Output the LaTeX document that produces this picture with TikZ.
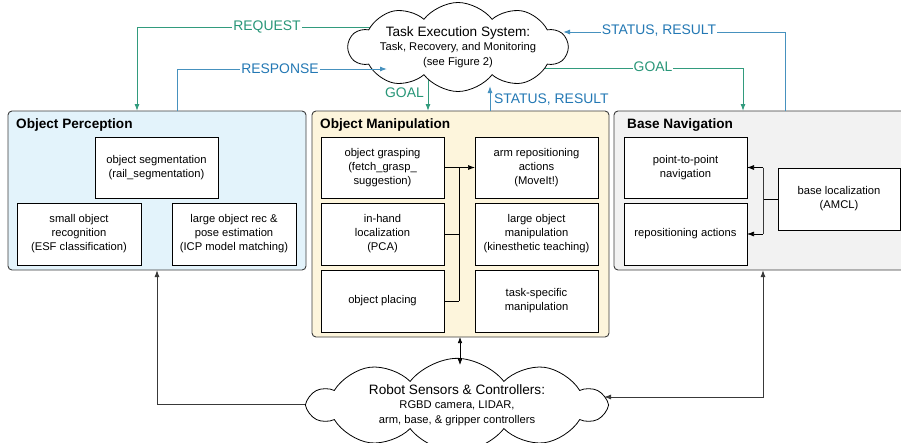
\documentclass[tikz,border=0pt]{standalone}
\usepackage{fontspec}
\setmainfont{Liberation Sans}
\usetikzlibrary{shapes.symbols,arrows.meta}
\definecolor{cgreen}{RGB}{40,150,120}
\definecolor{cblue}{RGB}{35,120,180}
\definecolor{lgreen}{RGB}{50,155,125}
\definecolor{lblue}{RGB}{70,145,190}
\definecolor{percfill}{RGB}{227,243,251}
\definecolor{manipfill}{RGB}{253,245,220}
\definecolor{navfill}{RGB}{242,242,242}
\definecolor{grpborder}{RGB}{60,60,60}
\begin{document}
\begin{tikzpicture}[x=1pt,y=-1pt,
  group/.style={draw=grpborder,line width=0.9pt,rounded corners=4pt,inner sep=0pt,outer sep=0pt,anchor=north west},
  grptitle/.style={anchor=west,inner sep=0pt,font=\bfseries\fontsize{13.6}{16}\selectfont},
  inbox/.style={draw=black,fill=white,line width=0.8pt,inner sep=0pt,outer sep=0pt,anchor=north west,align=center,font=\fontsize{11.2}{14}\selectfont},
  cloudbox/.style={cloud,draw=black,fill=white,line width=0.8pt,cloud puffs=10,cloud puff arc=105,cloud ignores aspect,inner sep=0pt,align=center,font=\fontsize{11.2}{14.5}\selectfont},
  tip/.style={-{Latex[length=7pt,width=5pt]}},
  gln/.style={draw=lgreen,line width=1pt},
  bln/.style={draw=lblue,line width=1pt},
  glbl/.style={text=cgreen,fill=white,inner sep=1pt,font=\fontsize{13.9}{16}\selectfont},
  blbl/.style={text=cblue,fill=white,inner sep=1pt,font=\fontsize{13.9}{16}\selectfont},
  thinln/.style={draw=black,line width=0.7pt},
  grayln/.style={draw=gray!45!black,line width=1pt}
]
\useasboundingbox (0,0) rectangle (901,442);

% groups
\node[group,fill=percfill,minimum width=298,minimum height=159] (perc) at (8,111) {};
\node[group,fill=manipfill,minimum width=297,minimum height=226] (manip) at (312,111) {};
\node[group,fill=navfill,minimum width=300,minimum height=159] (nav) at (614,111) {};
\node[grptitle] (percT) at (16,125) {Object Perception};
\node[grptitle] (manipT) at (320,125) {Object Manipulation};
\node[grptitle] (navT) at (627,125) {Base Navigation};

% perception boxes
\node[inbox,minimum width=123,minimum height=61] (seg) at (95,137) {object segmentation\\(rail\_segmentation)};
\node[inbox,minimum width=124,minimum height=62] (small) at (17,203) {small object\\recognition\\(ESF classification)};
\node[inbox,minimum width=124,minimum height=62] (large) at (172,203) {large object rec \&\\pose estimation\\(ICP model matching)};

% manipulation boxes
\node[inbox,minimum width=123,minimum height=61] (grasp) at (321,137) {object grasping\\(fetch\_grasp\_\\suggestion)};
\node[inbox,minimum width=123,minimum height=62] (inhand) at (321,203) {in-hand\\localization\\(PCA)};
\node[inbox,minimum width=123,minimum height=62] (place) at (321,270) {object placing};
\node[inbox,minimum width=123,minimum height=61] (arm) at (475,137) {arm repositioning\\actions\\(MoveIt!)};
\node[inbox,minimum width=123,minimum height=62] (largem) at (475,203) {large object\\manipulation\\(kinesthetic teaching)};
\node[inbox,minimum width=123,minimum height=62] (task) at (475,270) {task-specific\\manipulation};

% navigation boxes
\node[inbox,minimum width=123,minimum height=61] (p2p) at (624,137) {point-to-point\\navigation};
\node[inbox,minimum width=123,minimum height=62] (repo) at (624,203) {repositioning actions};
\node[inbox,minimum width=122,minimum height=62] (baseloc) at (778,168) {base localization\\(AMCL)};

% manipulation connectors
\coordinate (mJ) at (459,0);
\draw[thinln] (inhand.east) -- (inhand.east -| mJ);
\draw[thinln] (place.east) -- (place.east -| mJ);
\draw[thinln] (mJ |- place.east) -- (mJ |- grasp.east);
\draw[thinln,tip] (grasp.east) -- (arm.west);

% navigation connectors
\coordinate (nJ) at (763,0);
\draw[thinln] (baseloc.west) -- (baseloc.west -| nJ);
\draw[grayln] (nJ |- p2p.east) -- (nJ |- repo.east);
\draw[thinln,tip] (nJ |- p2p.east) -- (p2p.east);
\draw[thinln,tip] (nJ |- repo.east) -- (repo.east);

% lines leaving the top cloud (drawn under it)
\coordinate (reqS) at (430,27);
\coordinate (reqE) at (137,111);
\draw[gln,tip] (reqS) -| (reqE);
\coordinate (goalS) at (428,60);
\draw[gln,tip] (goalS) -- (goalS |- manip.north);
\coordinate (goal2S) at (520,68);
\coordinate (goal2E) at (743,111);
\draw[gln,tip] (goal2S) -| (goal2E);

% lines leaving the bottom cloud (drawn under it)
\coordinate (bcL) at (420,404);
\coordinate (percB) at (157,270);
\draw[grayln,tip] (bcL) -| (percB);

% clouds
\node[cloudbox,minimum width=206,minimum height=77] (tes) at (458,47)
  {{\fontsize{13.6}{16}\selectfont Task Execution System:}\\
   Task, Recovery, and Monitoring\\
   (see Figure 2)};
\node[cloudbox,minimum width=296,minimum height=82] (rsc) at (457,405)
  {{\fontsize{13.6}{16}\selectfont Robot Sensors \& Controllers:}\\
   RGBD camera, LIDAR,\\
   arm, base, \& gripper controllers};

% lines entering the top cloud
\coordinate (rsS) at (177,111);
\coordinate (rsE) at (387,69);
\draw[bln,tip] (rsS) |- (rsE);
\coordinate (sr1E) at (490,86);
\draw[bln,tip] (sr1E |- manip.north) -- (sr1E);
\coordinate (sr2S) at (785,111);
\coordinate (sr2E) at (563,32);
\draw[bln,tip] (sr2S) |- (sr2E);

% bottom double arrows
\coordinate (rscTop) at (460,365);
\draw[thinln,{Latex[length=6pt,width=4.5pt]}-{Latex[length=6pt,width=4.5pt]}] (manip.south -| rscTop) -- (rscTop);
\coordinate (navB) at (763,270);
\coordinate (rscR) at (604,397);
\draw[grayln,{Latex[length=7pt,width=5pt]}-{Latex[length=7pt,width=5pt]}] (navB) |- (rscR);

% labels
\node[glbl] (lreq) at (267,27) {REQUEST};
\node[blbl] (lresp) at (280,69) {RESPONSE};
\node[glbl,anchor=east] (lgoal1) at (425,93) {GOAL};
\node[blbl,anchor=west,fill=none] (lsr1) at (493,100) {STATUS, RESULT};
\node[blbl] (lsr2) at (659,31) {STATUS, RESULT};
\node[glbl] (lgoal2) at (653,67) {GOAL};
\end{tikzpicture}
\end{document}
